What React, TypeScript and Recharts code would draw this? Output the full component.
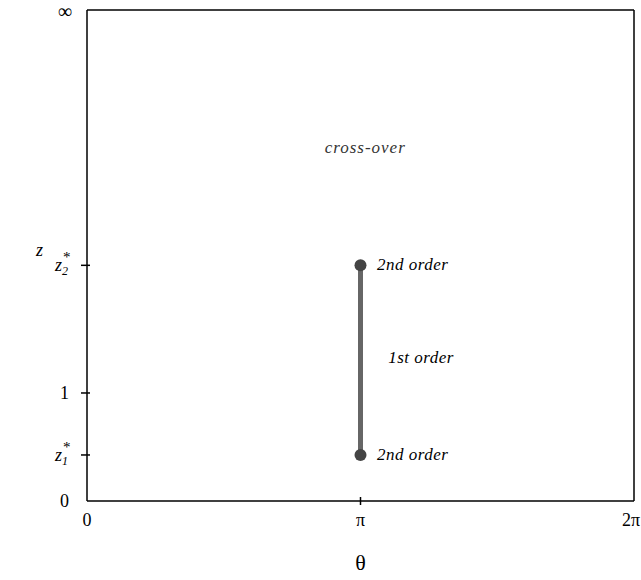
import { LineChart, Line, XAxis, YAxis, ReferenceLine, ReferenceDot } from 'recharts'

// theta axis (0 .. 2pi)
const thetaTicks = [0, Math.PI, 2 * Math.PI]
const thetaLabels = ['0', 'π', '2π']

// z axis is not linear in the figure: tick positions on a 0..4 display scale
const zTicks = [0, 0.375, 0.88, 1.92, 4]
const zLabels = ['0', 'z1*', '1', 'z2*', '∞']

// first-order transition line at theta = pi, from z1* to z2*
const transitionLine = [
  { theta: Math.PI, z: 0.375 },
  { theta: Math.PI, z: 1.92 },
]

const annotationTheta = [3.33, 3.33, 3.46, 2.73]
const annotationZ = [1.92, 0.375, 1.165, 2.876]
const annotationText = ['2nd order', '2nd order', '1st order', 'cross-over']

const FONT = '"Liberation Serif", "Times New Roman", serif'

function ZTick({ x, y, payload }: any) {
  const i = zTicks.indexOf(payload.value)
  const label = zLabels[i]
  const inner = i > 0 && i < zTicks.length - 1
  return (
    <g>
      {inner && <line x1={x - 6} x2={x + 3} y1={y} y2={y} stroke="#000" strokeWidth={1.5} />}
      {label.startsWith('z') ? (
        <text y={y + 6} fontFamily={FONT} fontSize={18} fill="#000">
          <tspan x={x - 32} fontStyle="italic">z</tspan>
          <tspan x={x - 25} dy={4} fontSize={12} fontStyle="italic">{label[1]}</tspan>
          <tspan x={x - 24} dy={-13} fontSize={15}>*</tspan>
        </text>
      ) : label === '∞' ? (
        <text x={x - 15} y={y + 8} textAnchor="end" fontFamily={FONT} fontSize={20} fill="#000">
          {label}
        </text>
      ) : (
        <text x={x - 18} y={y + 6} textAnchor="end" fontFamily={FONT} fontSize={18} fill="#000">
          {label}
        </text>
      )}
    </g>
  )
}

function ThetaTick({ x, y, payload }: any) {
  const i = thetaTicks.indexOf(payload.value)
  const inner = i > 0 && i < thetaTicks.length - 1
  const last = i === thetaTicks.length - 1
  return (
    <g>
      {inner && <line x1={x} x2={x} y1={y - 4} y2={y + 4} stroke="#000" strokeWidth={1.5} />}
      <text
        x={last ? x + 6 : x}
        y={y + 25}
        textAnchor={last ? 'end' : 'middle'}
        fontFamily={FONT}
        fontSize={18}
        fill="#000"
      >
        {thetaLabels[i]}
      </text>
    </g>
  )
}

export default function App() {
  return (
    <div style={{ position: 'absolute', left: 0, top: 0, background: '#fff' }}>
      <LineChart width={641} height={580} margin={{ top: 10, right: 7, bottom: 0, left: 0 }}>
        <XAxis
          dataKey="theta"
          type="number"
          domain={[0, 2 * Math.PI]}
          ticks={thetaTicks}
          interval={0}
          height={79}
          tickSize={0}
          tickMargin={0}
          tickLine={false}
          tick={<ThetaTick />}
          stroke="#000"
          strokeWidth={1.5}
          allowDataOverflow
          label={{ value: 'θ', position: 'insideBottom', offset: 10, fontFamily: FONT, fontSize: 22, fill: '#000' }}
        />
        <YAxis
          dataKey="z"
          type="number"
          domain={[0, 4]}
          ticks={zTicks}
          interval={0}
          width={87}
          tickSize={0}
          tickMargin={0}
          tickLine={false}
          tick={<ZTick />}
          stroke="#000"
          strokeWidth={1.5}
          allowDataOverflow
        />
        <ReferenceLine y={4} stroke="#000" strokeWidth={1.5} />
        <ReferenceLine x={2 * Math.PI} stroke="#000" strokeWidth={1.5} />
        <Line
          data={transitionLine}
          dataKey="z"
          stroke="#666"
          strokeWidth={5}
          dot={{ r: 6, fill: '#444', stroke: '#444', strokeWidth: 0 }}
          isAnimationActive={false}
        />
        {annotationText.map((t, i) => (
          <ReferenceDot
            key={i}
            x={annotationTheta[i]}
            y={annotationZ[i]}
            r={0}
            stroke="none"
            label={(p: any) => (
              <text
                x={p.viewBox.x}
                y={p.viewBox.y + 5}
                fontFamily={FONT}
                fontStyle="italic"
                fontSize={17}
                letterSpacing={t === 'cross-over' ? 1 : 0.5}
                fill={t === 'cross-over' ? '#333' : '#000'}
              >
                {t}
              </text>
            )}
          />
        ))}
      </LineChart>
      <div
        style={{
          position: 'absolute',
          left: 36,
          top: 240,
          fontFamily: FONT,
          fontStyle: 'italic',
          fontSize: 18,
        }}
      >
        z
      </div>
    </div>
  )
}
